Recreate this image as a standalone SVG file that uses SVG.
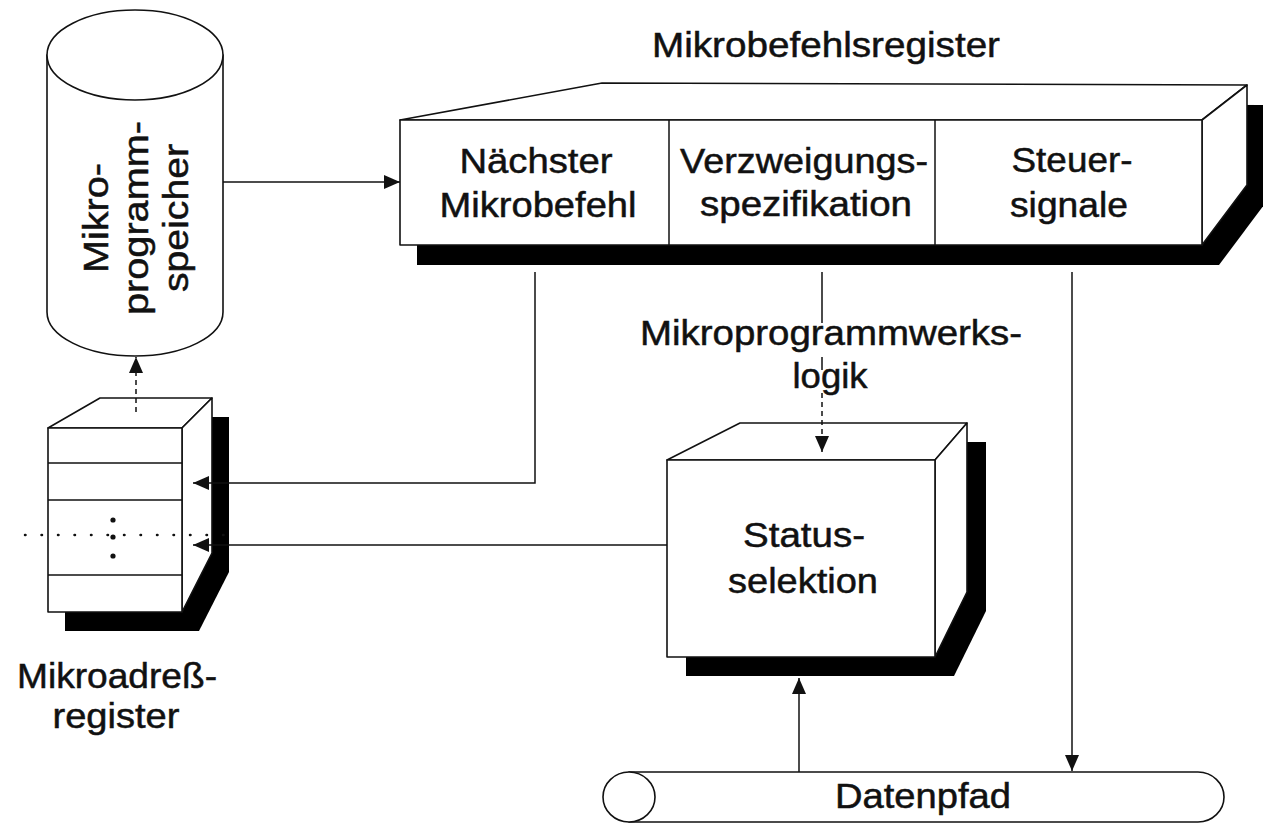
<svg xmlns="http://www.w3.org/2000/svg" width="1263" height="826" viewBox="0 0 1263 826">
  <defs>
    <marker id="arrow" markerUnits="userSpaceOnUse" markerWidth="17" markerHeight="14" refX="16" refY="7" orient="auto">
      <path d="M0,0 L16,7 L0,14 Z" fill="#111"/>
    </marker>
  </defs>
  <style>
    .face { fill: #fff; stroke: #111; stroke-width: 1.6; stroke-linejoin: round; }
    .shadow { fill: #000; stroke: none; }
    .line { fill: none; stroke: #111; stroke-width: 1.5; }
    .dash { stroke-dasharray: 5 4; }
    .lbl { font-family: "Liberation Sans", Arial, sans-serif; font-size: 35px; fill: #111; stroke: #111; stroke-width: 0.5; text-anchor: middle; }
  </style>
  <rect width="1263" height="826" fill="#fff"/>

  <!-- Mikroprogrammspeicher (cylinder) -->
  <g id="mikroprogrammspeicher">
    <path class="face" d="M47,55 L47,312 A88,44 0 0 0 223,312 L223,55 Z"/>
    <ellipse class="face" cx="135" cy="55" rx="88" ry="45"/>
    <g transform="translate(0,218) rotate(-90)">
      <text class="lbl" x="0" y="108" textLength="110" lengthAdjust="spacingAndGlyphs">Mikro-</text>
      <text class="lbl" x="0" y="148" textLength="194" lengthAdjust="spacingAndGlyphs">programm-</text>
      <text class="lbl" x="0" y="188" textLength="148" lengthAdjust="spacingAndGlyphs">speicher</text>
    </g>
  </g>

  <!-- Mikrobefehlsregister (long 3D box with three fields) -->
  <g id="mikrobefehlsregister">
    <polygon class="shadow" points="417,140 619,103 1264,105 1264,205 1219,265 417,265"/>
    <polygon class="face" points="400,120 602,83 1247,85 1202,120"/>
    <polygon class="face" points="1202,120 1247,85 1247,185 1202,245"/>
    <rect class="face" x="400" y="120" width="802" height="125"/>
    <line class="line" x1="669" y1="120" x2="669" y2="245"/>
    <line class="line" x1="935" y1="120" x2="935" y2="245"/>
    <text class="lbl" x="826" y="57" textLength="348" lengthAdjust="spacingAndGlyphs">Mikrobefehlsregister</text>
    <text class="lbl" x="536" y="173" textLength="153" lengthAdjust="spacingAndGlyphs">Nächster</text>
    <text class="lbl" x="538" y="217" textLength="197" lengthAdjust="spacingAndGlyphs">Mikrobefehl</text>
    <text class="lbl" x="804" y="173" textLength="248" lengthAdjust="spacingAndGlyphs">Verzweigungs-</text>
    <text class="lbl" x="806" y="216" textLength="212" lengthAdjust="spacingAndGlyphs">spezifikation</text>
    <text class="lbl" x="1072" y="172" textLength="121" lengthAdjust="spacingAndGlyphs">Steuer-</text>
    <text class="lbl" x="1069" y="217" textLength="118" lengthAdjust="spacingAndGlyphs">signale</text>
  </g>

  <!-- Mikroadressregister (stacked 3D box) -->
  <g id="mikroadressregister">
    <polygon class="shadow" points="65,447 117,417 229,417 229,572 199,631 65,631"/>
    <polygon class="face" points="48,428 100,398 212,398 182,428"/>
    <polygon class="face" points="182,428 212,398 212,553 182,612"/>
    <rect class="face" x="48" y="428" width="134" height="184"/>
    <line class="line" x1="48" y1="463" x2="182" y2="463"/>
    <line class="line" x1="48" y1="500" x2="182" y2="500"/>
    <line class="line" x1="48" y1="575" x2="182" y2="575"/>
    <line x1="25" y1="535" x2="233" y2="535" stroke="#111" stroke-width="2.5" stroke-linecap="round" stroke-dasharray="0.5 16"/>
    <circle cx="113" cy="520" r="2.6" fill="#111"/>
    <circle cx="113" cy="537" r="2.6" fill="#111"/>
    <circle cx="113" cy="556" r="2.6" fill="#111"/>
    <text class="lbl" x="117" y="688" textLength="200" lengthAdjust="spacingAndGlyphs">Mikroadreß-</text>
    <text class="lbl" x="116" y="728" textLength="127" lengthAdjust="spacingAndGlyphs">register</text>
  </g>

  <!-- Statusselektion (3D box) -->
  <g id="statusselektion">
    <polygon class="shadow" points="686,479 759,442 986,442 986,611 954,676 686,676"/>
    <polygon class="face" points="667,460 740,423 967,423 935,460"/>
    <polygon class="face" points="935,460 967,423 967,592 935,657"/>
    <rect class="face" x="667" y="460" width="268" height="197"/>
    <text class="lbl" x="804" y="547" textLength="122" lengthAdjust="spacingAndGlyphs">Status-</text>
    <text class="lbl" x="803" y="593" textLength="150" lengthAdjust="spacingAndGlyphs">selektion</text>
  </g>

  <!-- Datenpfad (horizontal pipe) -->
  <g id="datenpfad">
    <path class="face" d="M629,772 L1198,772 A26,25 0 0 1 1198,822 L629,822 Z"/>
    <ellipse class="face" cx="629" cy="797" rx="26" ry="25"/>
    <text class="lbl" x="923" y="808" textLength="176" lengthAdjust="spacingAndGlyphs">Datenpfad</text>
  </g>

  <!-- Label of the control logic -->
  <g id="mikroprogrammwerkslogik">
    <text class="lbl" x="831" y="345" textLength="382" lengthAdjust="spacingAndGlyphs">Mikroprogrammwerks-</text>
    <text class="lbl" x="830" y="388" textLength="75" lengthAdjust="spacingAndGlyphs">logik</text>
  </g>

  <!-- Connectors -->
  <g id="connectors">
    <path class="line" d="M223,182 H400" marker-end="url(#arrow)"/>
    <path class="line dash" d="M136,412 V357" marker-end="url(#arrow)"/>
    <path class="line" d="M535,272 V483 H193" marker-end="url(#arrow)"/>
    <path class="line" d="M667,545 H193" marker-end="url(#arrow)"/>
    <path class="line" stroke-width="1.2" d="M822,272 V323 M822,357 V370"/>
    <path class="line dash" stroke-width="1.2" d="M822,393 V452" marker-end="url(#arrow)"/>
    <path class="line" d="M1072,272 V771" marker-end="url(#arrow)"/>
    <path class="line" d="M799,772 V678" marker-end="url(#arrow)"/>
  </g>
</svg>
